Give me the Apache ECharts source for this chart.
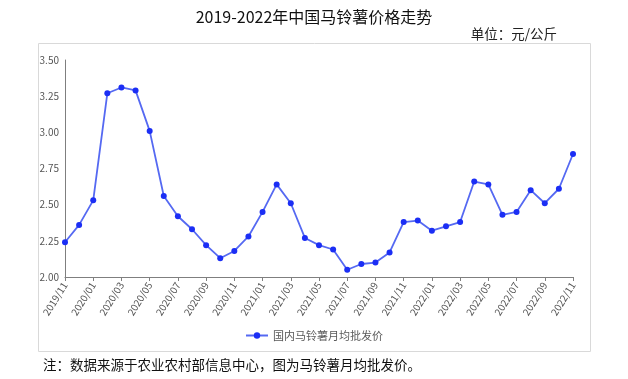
<!DOCTYPE html>
<html><head><meta charset="utf-8">
<script src="https://cdn.jsdelivr.net/npm/echarts@6/dist/echarts.min.js"></script>
<style>html,body{margin:0;padding:0;background:#fff}#c{width:628px;height:379px}</style>
</head><body><div id="c"></div>
<script>
const months = ["2019/11","2019/12","2020/01","2020/02","2020/03","2020/04","2020/05","2020/06","2020/07","2020/08","2020/09","2020/10","2020/11","2020/12","2021/01","2021/02","2021/03","2021/04","2021/05","2021/06","2021/07","2021/08","2021/09","2021/10","2021/11","2021/12","2022/01","2022/02","2022/03","2022/04","2022/05","2022/06","2022/07","2022/08","2022/09","2022/10","2022/11"];
const prices = [2.24,2.36,2.53,3.27,3.31,3.29,3.01,2.56,2.42,2.33,2.22,2.13,2.18,2.28,2.45,2.64,2.51,2.27,2.22,2.19,2.05,2.09,2.10,2.17,2.38,2.39,2.32,2.35,2.38,2.66,2.64,2.43,2.45,2.60,2.51,2.61,2.85];
const seriesName = "国内马铃薯月均批发价";
const titleText = "2019-2022年中国马铃薯价格走势";
const unitText = "单位：元/公斤";
const noteText = "注：数据来源于农业农村部信息中心，图为马铃薯月均批发价。";

const chart = echarts.init(document.getElementById('c'));
const F = '"Noto Sans CJK SC", "Noto Sans", sans-serif';
chart.setOption({
  animation: false,
  textStyle: {fontFamily: F},
  title: [
    {text: titleText, left: 'center', top: 4, textStyle: {fontSize: 16, fontWeight: 'normal', color: '#111', fontFamily: F}},
    {text: unitText, right: 66, top: 22, textStyle: {fontSize: 13.5, fontWeight: 'normal', color: '#222', fontFamily: F}},
    {text: noteText, left: 38, top: 353, textStyle: {fontSize: 13.5, fontWeight: 'normal', color: '#111', fontFamily: F}}
  ],
  graphic: [{type: 'rect', shape: {x: 38.5, y: 43.5, width: 552, height: 308}, style: {fill: 'none', stroke: '#d9d9d9', lineWidth: 1}, silent: true}],
  legend: {bottom: 33, left: 'center', itemWidth: 22, itemHeight: 8, textStyle: {fontSize: 11, color: '#595959'}, data: [seriesName]},
  grid: {left: 65, right: 55, top: 60, bottom: 102},
  xAxis: {
    type: 'category', data: months, boundaryGap: false,
    axisLine: {lineStyle: {color: '#7f7f7f'}},
    axisTick: {interval: 1, length: 4, lineStyle: {color: '#7f7f7f'}},
    axisLabel: {interval: 1, rotate: 58, fontSize: 10, color: '#555', margin: 6}
  },
  yAxis: {
    type: 'value', min: 2, max: 3.5, interval: 0.25,
    axisLine: {show: true, lineStyle: {color: '#7f7f7f'}},
    axisTick: {show: false}, splitLine: {show: false},
    axisLabel: {fontSize: 10, color: '#555', margin: 6, formatter: v => v.toFixed(2)}
  },
  series: [{
    name: seriesName, type: 'line', data: prices,
    symbol: 'circle', symbolSize: 6,
    lineStyle: {color: '#5569f2', width: 1.8},
    itemStyle: {color: '#1b2ef5'}
  }]
});
</script></body></html>
